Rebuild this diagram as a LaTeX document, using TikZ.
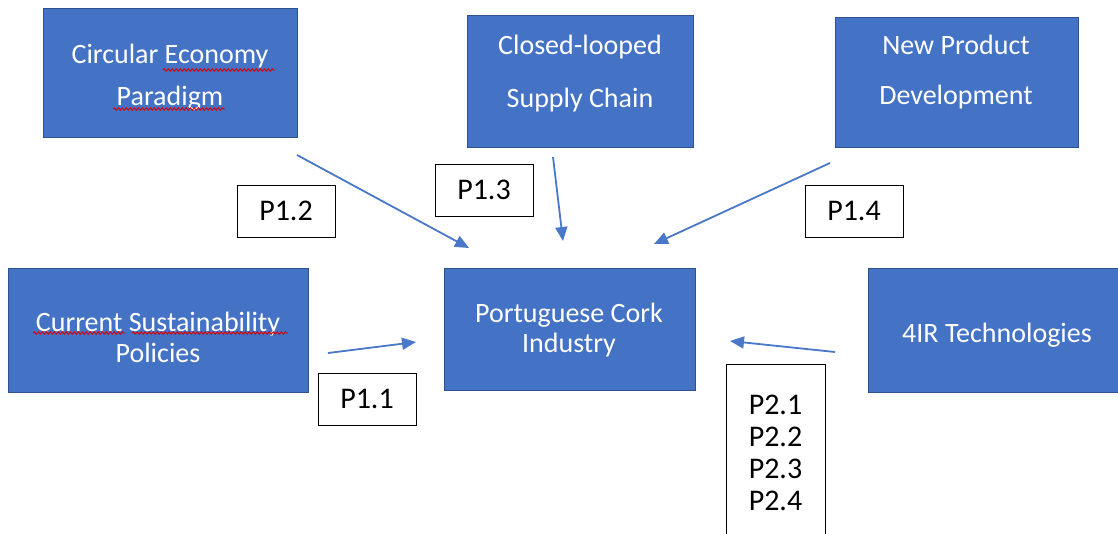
\documentclass[tikz,border=0pt]{standalone}
\usepackage{fontspec}
\setmainfont{Carlito}
\usetikzlibrary{arrows.meta,decorations.pathmorphing}
\definecolor{boxblue}{HTML}{4472C4}
\definecolor{boxedge}{HTML}{2F528F}
\definecolor{arrowblue}{HTML}{4A78C8}
\begin{document}
\begin{tikzpicture}[x=1pt,y=-1pt,
  bluebox/.style={draw=boxedge,fill=boxblue,line width=0.8pt,inner sep=0pt},
  whitetext/.style={text=white,align=center,font=\fontsize{28}{34}\selectfont,inner sep=0pt},
  plabel/.style={draw=black,line width=1pt,fill=white,font=\fontsize{30}{32}\selectfont,inner sep=0pt,minimum width=98pt,minimum height=52pt},
  ptext/.style={align=center,font=\fontsize{30}{32}\selectfont,inner sep=0pt},
  conn/.style={draw=arrowblue,line width=1.8pt,-{Triangle[length=14pt,width=12pt]}},
  squiggle/.style={draw=red!85!black,line width=0.9pt,decorate,decoration={snake,segment length=4pt,amplitude=1.2pt}}]
\clip (0,0) rectangle (1118,533);
\fill[white] (0,0) rectangle (1118,533);
% blue boxes
\node[bluebox,minimum width=254pt,minimum height=129pt] (ce) at (170,72.5) {};
\node[bluebox,minimum width=226pt,minimum height=132pt] (cl) at (580,81) {};
\node[bluebox,minimum width=243pt,minimum height=130pt] (np) at (956.5,82) {};
\node[bluebox,minimum width=300pt,minimum height=124pt] (cs) at (158,330) {};
\node[bluebox,minimum width=251pt,minimum height=122pt] (pc) at (569.5,329) {};
\node[bluebox,minimum width=257pt,minimum height=124pt] (ir) at (996.5,330) {};
% box texts
\node[whitetext] (cet) at (170,77) {Circular Economy\\[8pt]Paradigm};
\node[whitetext] (clt) at (580,73.5) {Closed-looped\\[19pt]Supply Chain};
\node[whitetext] (npt) at (956,72) {New Product\\[16pt]Development};
\node[whitetext] (cst) at (158,337) {Current Sustainability\\[-3pt]Policies};
\node[whitetext] (pct) at (569,330) {Portuguese Cork\\[-4pt]Industry};
\node[whitetext] (irt) at (997,335) {4IR Technologies};
% spell-check squiggles
\draw[squiggle] (163,70) -- (275,70);
\draw[squiggle] (113,109) -- (225,109);
\draw[squiggle] (33,333) -- (125,333);
\draw[squiggle] (132,333) -- (288,333);
% label boxes
\node[plabel] (p12) at (286,211) {P1.2};
\node[plabel] (p13) at (484,190) {P1.3};
\node[plabel] (p14) at (854,211) {P1.4};
\node[plabel] (p11) at (367,399) {P1.1};
\node[draw=black,line width=1pt,fill=white,minimum width=99pt,minimum height=196pt,inner sep=0pt] (p2) at (775.5,462) {};
\node[ptext] (p2t) at (775.5,452.5) {P2.1\\P2.2\\P2.3\\P2.4};
% arrows
\coordinate (a1s) at (297,155); \coordinate (a1e) at (469,248);
\coordinate (a2s) at (553,157); \coordinate (a2e) at (563,241);
\coordinate (a3s) at (830,163); \coordinate (a3e) at (654,244);
\coordinate (a4s) at (328,353); \coordinate (a4e) at (416,342);
\coordinate (a5s) at (835,352); \coordinate (a5e) at (730,341);
\draw[conn] (a1s) -- (a1e);
\draw[conn] (a2s) -- (a2e);
\draw[conn] (a3s) -- (a3e);
\draw[conn] (a4s) -- (a4e);
\draw[conn] (a5s) -- (a5e);
\end{tikzpicture}
\end{document}
